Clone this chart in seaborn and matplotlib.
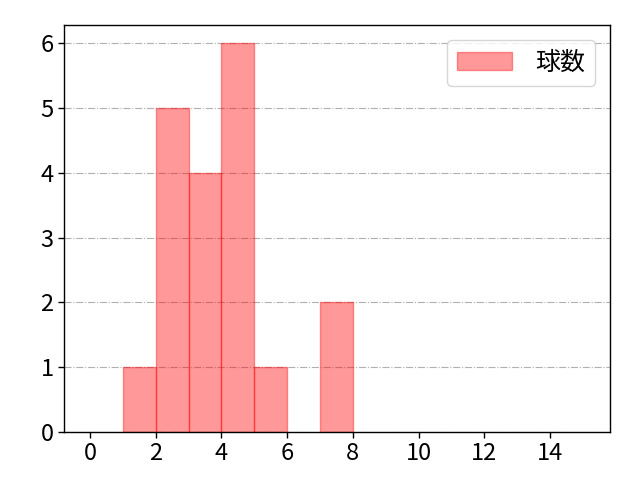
import matplotlib
matplotlib.use("Agg")
import matplotlib.pyplot as plt
import seaborn as sns

# 球数の区間ごとの件数
bin_left = [1, 2, 3, 4, 5, 7]
counts = [1, 5, 4, 6, 1, 2]
bin_edges = list(range(0, 16))

sns.set_style("white")
plt.rcParams['font.family'] = ['Noto Sans CJK JP', 'DejaVu Sans']
plt.rcParams['text.color'] = 'black'

fig, ax = plt.subplots(figsize=(6.4, 4.8), dpi=100)

sns.histplot(x=bin_left, weights=counts, bins=bin_edges, color='red',
             alpha=0.4, edgecolor=(1, 0, 0, 0.4), linewidth=1, label='球数', ax=ax)

# 高さ0のビンは描かない
for p in list(ax.patches):
    if p.get_height() == 0:
        p.remove()

ax.set_xlim(-0.79, 15.82)
ax.set_ylim(0, 6.28)
ax.set_xticks(range(0, 15, 2))
ax.set_xlabel('')
ax.set_ylabel('')
ax.tick_params(labelsize=17, length=4, width=1, bottom=True, left=True,
               color='black', labelcolor='black')
ax.grid(axis='y', linestyle='dashdot', color='#b0b0b0')
ax.set_axisbelow(True)
for s in ax.spines.values():
    s.set_color('black')
    s.set_linewidth(1)
ax.legend(loc='upper right', fontsize=18, handlelength=2.2, handletextpad=0.9,
          borderaxespad=0.6)

fig.subplots_adjust(left=0.1, right=0.953, top=0.948, bottom=0.1)
plt.savefig('out.png')
